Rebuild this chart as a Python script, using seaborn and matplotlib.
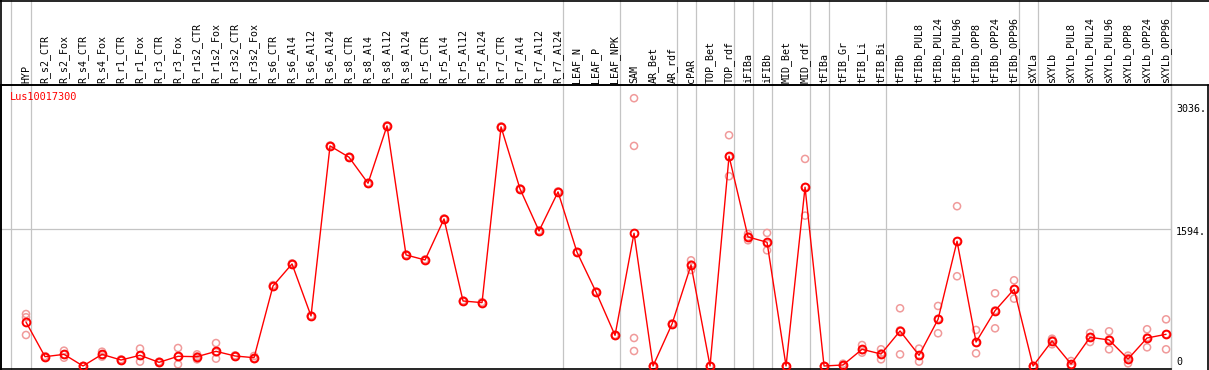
import numpy as np
import pandas as pd
import matplotlib
matplotlib.use("Agg")
import matplotlib.pyplot as plt
import seaborn as sns
from matplotlib.transforms import blended_transform_factory, offset_copy
from matplotlib.lines import Line2D

# ---------------- data ----------------
gene = "Lus10017300"
categories = [
    "HYP", "R_s2_CTR", "R_s2_Fox", "R_s4_CTR", "R_s4_Fox", "R_r1_CTR", "R_r1_Fox",
    "R_r3_CTR", "R_r3_Fox", "R_r1s2_CTR", "R_r1s2_Fox", "R_r3s2_CTR", "R_r3s2_Fox",
    "R_s6_CTR", "R_s6_Al4", "R_s6_Al12", "R_s6_Al24", "R_s8_CTR", "R_s8_Al4",
    "R_s8_Al12", "R_s8_Al24", "R_r5_CTR", "R_r5_Al4", "R_r5_Al12", "R_r5_Al24",
    "R_r7_CTR", "R_r7_Al4", "R_r7_Al12", "R_r7_Al24", "LEAF_N", "LEAF_P", "LEAF_NPK",
    "SAM", "AR_Bet", "AR_rdf", "cPAR", "TOP_Bet", "TOP_rdf", "iFIBa", "iFIBb",
    "MID_Bet", "MID_rdf", "tFIBa", "tFIB_Gr", "tFIB_Li", "tFIB_Bi", "tFIBb",
    "tFIBb_PUL8", "tFIBb_PUL24", "tFIBb_PUL96", "tFIBb_OPP8", "tFIBb_OPP24",
    "tFIBb_OPP96", "sXYLa", "sXYLb", "sXYLb_PUL8", "sXYLb_PUL24", "sXYLb_PUL96",
    "sXYLb_OPP8", "sXYLb_OPP24", "sXYLb_OPP96",
]
means = [
    513, 109, 136, 0, 136, 70, 125, 43, 113, 109, 171, 117, 97,
    935, 1192, 584, 2570, 2438, 2134, 2804, 1297, 1238, 1717, 759, 740,
    2792, 2068, 1577, 2033, 1328, 864, 358,
    1550, 0, 491, 1180, 0, 2450, 1507, 1445, 0, 2088, 0, 12, 195, 140, 409,
    125, 545, 1457, 280, 646, 896, 0, 292, 23, 335, 304, 82, 327, 370,
]
replicates = [
    [607, 569, 362], [100, 112, 115], [179, 97, 132], [0, 0, 0], [167, 109, 132],
    [62, 70, 78], [203, 51, 121], [35, 43, 51], [210, 20, 109], [136, 78, 113],
    [268, 86, 160], [109, 117, 125], [117, 82, 92],
    [925, 935, 945], [1185, 1192, 1199], [578, 584, 590], [2565, 2570, 2575],
    [2432, 2438, 2444], [2128, 2134, 2140], [2798, 2804, 2810], [1291, 1297, 1303],
    [1232, 1238, 1244], [1711, 1717, 1723], [753, 759, 765], [734, 740, 746],
    [2786, 2792, 2798], [2062, 2068, 2074], [1571, 1577, 1583], [2027, 2033, 2039],
    [1322, 1328, 1334], [858, 864, 870], [352, 358, 364],
    [3127, 2570, 327, 175], [0, 0, 0], [485, 491, 497], [1234, 1121, 1185],
    [0, 0, 0], [2695, 2216, 2440], [1542, 1468, 1511], [1554, 1351, 1430],
    [0, 0, 0], [2418, 1756, 2090], [0, 0, 0], [27, 0, 9], [245, 156, 185],
    [195, 78, 147], [674, 136, 417], [203, 51, 121], [701, 382, 552],
    [1866, 1048, 1457], [421, 148, 271], [849, 440, 649], [1001, 786, 901],
    [0, 0, 0], [319, 253, 304], [58, 0, 11], [386, 280, 339], [405, 195, 312],
    [121, 31, 94], [429, 218, 334], [545, 195, 370],
]
group_sizes = [1, 28, 3, 3, 1, 2, 1, 1, 2, 1, 3, 7, 1, 7]
tick_values = [3036, 1594, 0]
grid_value = 1594

# ---------------- frames ----------------
n = len(categories)
df_mean = pd.DataFrame({"idx": np.arange(n), "value": means})
rep_rows = [(i, v) for i, reps in enumerate(replicates) for v in reps]
df_rep = pd.DataFrame(rep_rows, columns=["idx", "value"])

# ---------------- figure ----------------
sns.set_theme(style="white")
plt.rcParams["font.family"] = ["DejaVu Sans Mono", "DejaVu Sans"]

W, H = 1209, 370
fig = plt.figure(figsize=(W / 100, H / 100), dpi=100)
fig.patch.set_facecolor("white")
top_px, bot_px, left_px, right_px = 85, 369, 1, 1171
ax = fig.add_axes([left_px / W, (H - bot_px) / H,
                   (right_px - left_px) / W, (bot_px - top_px) / H])
ax.set_facecolor("white")

px_per_unit = 0.08564
zero_px = 366
ax.set_ylim((zero_px - bot_px) / px_per_unit, (zero_px - top_px) / px_per_unit)
ax.set_xlim(-1.316, 60.26)

grey = "#c4c4c4"
ax.axhline(grid_value, color=grey, lw=0.9, zorder=0)

trans_xa = blended_transform_factory(ax.transData, ax.transAxes)
header_top = (bot_px - 0) / (bot_px - top_px)

# group separators
ends = np.cumsum(group_sizes) - 1
sep_x = [-0.8] + [e + 0.24 for e in ends]
for x in sep_x:
    ax.plot([x, x], [0, header_top], transform=trans_xa, color=grey, lw=0.9,
            clip_on=False, zorder=0)

# replicates
sns.scatterplot(data=df_rep, x="idx", y="value", ax=ax, marker="o", s=26,
                facecolors="none", edgecolors="#f09a9a", linewidth=1.1,
                legend=False, zorder=2)
# means
sns.lineplot(data=df_mean, x="idx", y="value", ax=ax, sort=False, color="#ff0000",
             lw=1.0, marker="o", markersize=5.6, markerfacecolor="none",
             markeredgecolor="#ff0000", markeredgewidth=1.4, legend=False, zorder=3)

ax.set_xticks([])
ax.set_yticks([])
ax.set_xlabel("")
ax.set_ylabel("")
for s in ["left", "bottom", "top"]:
    ax.spines[s].set_color("black")
    ax.spines[s].set_linewidth(1.2)
ax.spines["right"].set_color(grey)
ax.spines["right"].set_linewidth(0.9)

# header labels
label_base = (bot_px - 83) / (bot_px - top_px)
for i, lab in enumerate(categories):
    ax.text(i, label_base, lab, rotation=90, ha="center", va="bottom",
            transform=trans_xa, fontsize=7.2, color="black", clip_on=False)

# gene name
ax.text((10 - left_px) / (right_px - left_px), (bot_px - 97) / (bot_px - top_px),
        gene, transform=ax.transAxes, color="#ff0000", fontsize=7.4,
        ha="left", va="center")

# right tick labels
trans_ya = blended_transform_factory(ax.transAxes, ax.transData)
for v in tick_values:
    dy = -3 if v > 0 else 4
    tr = offset_copy(trans_ya, fig=fig, x=0, y=dy, units="dots")
    ax.text((1176 - left_px) / (right_px - left_px), v,
            f"{v}." if v > 0 else f"{v}", transform=tr,
            ha="left", va="center", fontsize=7.2, color="black", clip_on=False)

# outer frame lines
fig.add_artist(Line2D([0, 1], [1 - 0.6 / H, 1 - 0.6 / H], transform=fig.transFigure,
                      color="black", lw=1.2))
fig.add_artist(Line2D([0, 1], [(H - top_px) / H, (H - top_px) / H],
                      transform=fig.transFigure, color="black", lw=1.2))
fig.add_artist(Line2D([left_px / W, left_px / W], [0, 1], transform=fig.transFigure,
                      color="black", lw=1.2))
fig.add_artist(Line2D([(W - 1) / W, (W - 1) / W], [0, (H - top_px) / H],
                      transform=fig.transFigure, color="black", lw=1.2))

fig.savefig("out.png", dpi=100, facecolor="white")
